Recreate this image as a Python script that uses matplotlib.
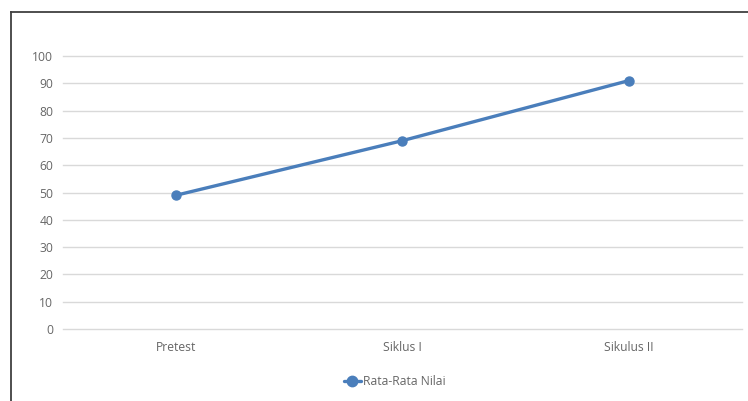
import matplotlib.pyplot as plt
from matplotlib.lines import Line2D

# data
categories = ['Pretest', 'Siklus I', 'Sikulus II']
rata_rata = [49, 69, 91]
y_ticks = list(range(0, 101, 10))

plt.rcParams['font.family'] = ['Open Sans', 'DejaVu Sans']

fig = plt.figure(figsize=(7.48, 4.01), dpi=100)
ax = fig.add_axes([0.0842, 0.1796, 0.9078, 0.6807])

ax.plot(range(len(categories)), rata_rata, color='#4a7ebb', lw=2.4,
        marker='o', markersize=6.5, label='Rata-Rata Nilai', solid_capstyle='round')

ax.set_xlim(-0.5, len(categories) - 0.5)
ax.set_ylim(0, 100)
ax.set_yticks(y_ticks)
ax.set_xticks(range(len(categories)))
ax.set_xticklabels(categories)
ax.tick_params(axis='both', length=0, labelsize=8.7, labelcolor='#666666')
ax.tick_params(axis='y', pad=7)
ax.tick_params(axis='x', pad=9)
ax.grid(axis='y', color='#d9d9d9', lw=1)
for g in ax.get_ygridlines():
    g.set_clip_on(False)
ax.set_axisbelow(True)
for s in ax.spines.values():
    s.set_visible(False)

leg = fig.legend(loc='center', bbox_to_anchor=(0.528, 0.048), frameon=False,
                 fontsize=8.7, handlelength=1.4, handletextpad=0.2, markerscale=1.15)
for t in leg.get_texts():
    t.set_color('#666666')

# outer frame (top and left edges)
fig.add_artist(Line2D([11 / 748, 1], [1 - 12 / 401] * 2, color='#404040', lw=1.3,
                      transform=fig.transFigure))
fig.add_artist(Line2D([11 / 748] * 2, [0, 1 - 12 / 401], color='#404040', lw=1.3,
                      transform=fig.transFigure))

fig.savefig('out.png', dpi=100)
